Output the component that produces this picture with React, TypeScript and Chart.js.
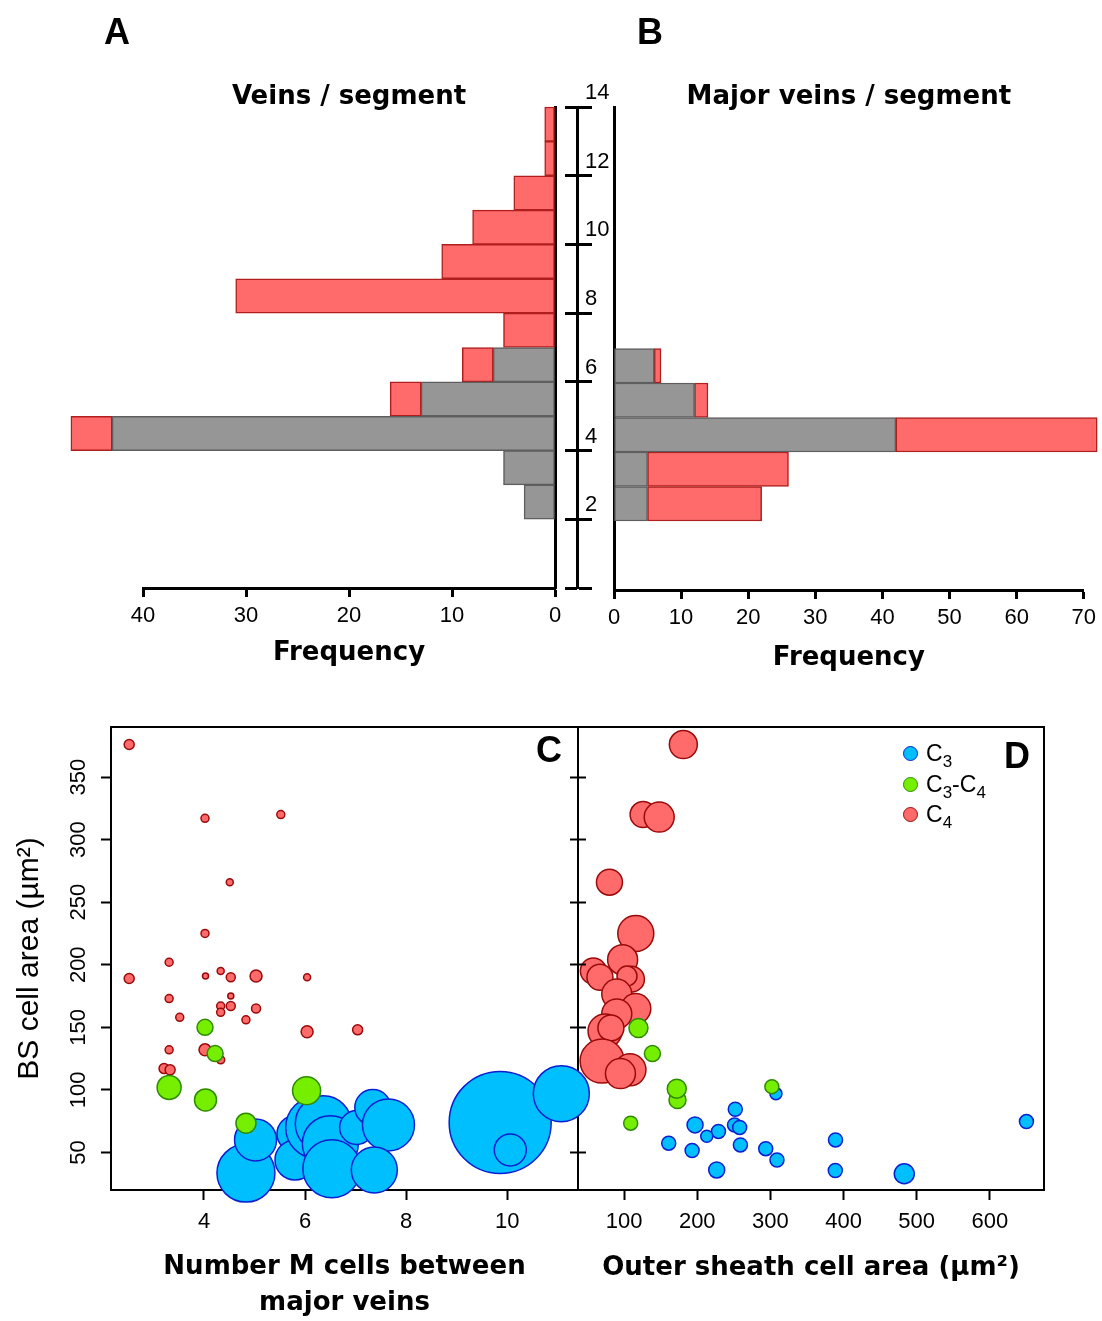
import React, { useEffect, useRef } from 'react';
import { Chart, registerables } from 'chart.js';

Chart.register(...registerables);

// ---------- Panel A / B : histograms (frequency per bin, bins are [n, n+1)) ----------
const veinBins = [2, 3, 4, 5, 6, 7, 8, 9, 10, 11, 12, 13];
const veinsNonC4 = [3, 5, 43, 13, 6, null, null, null, null, null, null, null];
const veinsC4 = [null, null, 4, 3, 3, 5, 31, 11, 8, 4, 1, 1];

const majorBins = [2, 3, 4, 5, 6];
const majorNonC4 = [5, 5, 42, 12, 6];
const majorC4 = [17, 21, 30, 2, 1];

// ---------- Panel C : Number of M cells between major veins vs BS cell area ----------
const cC3X = [5.8, 5.8, 6.23, 6.36, 6.5, 7.02, 7.34, 7.65, 6.53, 7.37, 4.83, 5.02, 9.86, 10.06, 11.07];
const cC3Y = [65, 44, 70, 73, 57, 70, 86, 72, 37, 36, 33.5, 60, 74, 52, 97];
const cC3R = [18, 20, 31, 28, 28, 17, 18, 26, 29, 23, 29, 21, 51, 16, 28];

const cC3C4X = [4.02, 4.22, 3.31, 4.03, 6.03, 4.83];
const cC3C4Y = [150, 129, 102, 92, 99.4, 73.4];
const cC3C4R = [8, 8, 12, 11, 14, 10];

const cC4X = [2.52, 4.02, 5.52, 4.51, 4.02, 3.31, 2.52, 4.03, 4.33, 4.53, 5.03, 6.04, 3.31, 4.53, 4.33, 4.53, 4.33, 5.03, 3.52, 4.83, 6.04, 7.04, 3.31, 4.02, 4.33, 3.21, 3.33];
const cC4Y = [376, 317, 320, 266, 225, 202, 189, 191, 195, 190, 191, 190, 173, 175, 167, 167, 162, 165, 158, 156, 146.5, 148, 132, 132, 124, 117, 116];
const cC4R = [5, 4, 4, 3.5, 4, 4, 5, 3, 3.5, 4.5, 6, 3.5, 4, 3, 4, 4.5, 4, 4.5, 4, 4, 6, 5, 4, 6, 4, 5, 5];

// ---------- Panel D : Outer sheath cell area vs BS cell area ----------
const dC3X = [307.6, 252, 197, 251, 258, 229, 213, 161, 259, 193, 293.6, 309, 226.6, 389, 388.7, 483, 650];
const dC3Y = [97, 84.5, 72, 72, 70, 66.8, 63, 57.4, 56, 51.6, 53, 44, 36, 60, 35.6, 33, 74.7];
const dC3R = [6, 7, 8, 7, 7, 7, 6, 7, 7, 7, 7, 7, 8, 7, 7, 10, 7];

const dC3C4X = [119.6, 138.7, 173, 172, 302, 109];
const dC3C4Y = [149.5, 129, 92, 101, 102.6, 73.4];
const dC3C4R = [9.5, 8, 8.5, 9.5, 7, 7];

const dC4X = [181, 126, 148, 80, 116, 98, 58, 67, 110, 104, 90, 116, 90, 74, 82, 70, 108, 95];
const dC4Y = [376, 320, 318, 266, 225, 204, 195, 190, 188.5, 191, 176.6, 165, 160.7, 147, 149.5, 123, 116, 113];
const dC4R = [14, 13, 15, 13, 18, 15, 13, 13, 13, 10, 15, 15, 15, 17, 13, 22, 16, 15];

// ---------- styles ----------
const TICK_FONT = { family: '"Liberation Sans Narrow", "Liberation Sans", Arial, sans-serif', size: 22 };
const BOLD_TITLE = { family: '"DejaVu Sans", Verdana, sans-serif', size: 26, weight: 'bold' as const, lineHeight: 1.2 };
const Y_TITLE_FONT = { family: '"Liberation Sans", Arial, sans-serif', size: 30, lineHeight: 1.2 };

const GRAY = '#969696';
const GRAY_EDGE = '#5E5E5E';
const RED = '#FF6B6B';
const RED_EDGE = '#B01E1E';
const RED_BUBBLE_EDGE = '#9A0A0A';
const BLUE = '#00BFFF';
const BLUE_EDGE = '#0A1ED2';
const GREEN = '#76EE00';
const GREEN_EDGE = '#2E8B00';

function histData(bins: number[], vals: (number | null)[]) {
  return bins
    .map((b, i) => ({ x: vals[i] as number, y: b + 0.5 }))
    .filter((d) => d.x !== null && d.x !== undefined);
}

function bubbles(xs: number[], ys: number[], rs: number[]) {
  return xs.map((x, i) => ({ x, y: ys[i], r: rs[i] }));
}

const barCommon = {
  borderWidth: 1.5,
  borderSkipped: false as const,
  barPercentage: 1,
  categoryPercentage: 1,
  clip: false as const,
};

function histConfig(opts: {
  bins: number[];
  gray: (number | null)[];
  red: (number | null)[];
  title: string;
  left: boolean;
}): any {
  const { bins, gray, red, title, left } = opts;
  const scales: any = {
    x: {
      type: 'linear',
      position: 'bottom',
      min: 0,
      max: left ? 40 : 70,
      reverse: left,
      stacked: true,
      ticks: { stepSize: 10, color: '#000', font: TICK_FONT, padding: 6, maxRotation: 0, includeBounds: false },
      grid: { drawOnChartArea: false, tickLength: 9, tickWidth: 3, tickColor: '#000' },
      border: { color: '#000', width: 3 },
      title: {
        display: true,
        text: 'Frequency',
        color: '#000',
        font: BOLD_TITLE,
        padding: { top: 0, bottom: left ? 11 : 6 },
      },
      afterFit: (s: any) => {
        s.height = left ? 92 : 90;
      },
    },
  };
  if (left) {
    scales.y = {
      type: 'linear',
      position: 'right',
      weight: 0,
      min: 0,
      max: 14,
      offset: false,
      stacked: true,
      ticks: { display: false, stepSize: 2 },
      grid: { offset: false, drawOnChartArea: false, tickLength: 10, tickColor: 'rgba(0,0,0,0)' },
      border: { color: '#000', width: 3 },
      afterFit: (s: any) => {
        s.width = 10;
      },
    };
    scales.yGap = {
      type: 'linear',
      position: 'right',
      weight: 1,
      min: 0,
      max: 14,
      offset: false,
      ticks: { display: false, stepSize: 2 },
      grid: { offset: false, drawOnChartArea: false, tickLength: 12, tickWidth: 3, tickColor: '#000' },
      border: { display: false },
      afterFit: (s: any) => {
        s.width = 12;
      },
    };
    scales.yMid = {
      type: 'linear',
      position: 'right',
      weight: 2,
      min: 0,
      max: 14,
      offset: false,
      ticks: {
        display: true,
        stepSize: 2,
        color: '#000',
        font: TICK_FONT,
        padding: -7,
        labelOffset: -14,
        callback: (v: any) => (v === 0 ? '' : String(v)),
      },
      grid: { offset: false, drawOnChartArea: false, tickLength: 15, tickWidth: 3, tickColor: '#000' },
      border: { color: '#000', width: 3 },
      afterFit: (s: any) => {
        s.width = 35;
      },
    };
  } else {
    scales.y = {
      type: 'linear',
      position: 'left',
      min: 0,
      max: 14,
      offset: false,
      stacked: true,
      ticks: { display: false, stepSize: 2 },
      grid: { offset: false, drawOnChartArea: false, drawTicks: false },
      border: { color: '#000', width: 3 },
      afterFit: (s: any) => {
        s.width = 14;
      },
    };
  }
  return {
    type: 'bar',
    data: {
      datasets: [
        { label: 'C3 / C3-C4', data: histData(bins, gray), backgroundColor: GRAY, borderColor: GRAY_EDGE, ...barCommon },
        { label: 'C4', data: histData(bins, red), backgroundColor: RED, borderColor: RED_EDGE, ...barCommon },
      ],
    },
    options: {
      indexAxis: 'y',
      responsive: false,
      animation: false,
      events: [],
      layout: {
        autoPadding: false,
        padding: left ? { left: 143, right: 0, top: 0, bottom: 0 } : { left: 0, right: 18, top: 0, bottom: 0 },
      },
      plugins: {
        legend: { display: false },
        tooltip: { enabled: false },
        title: {
          display: true,
          text: title,
          fullSize: false,
          color: '#000',
          font: BOLD_TITLE,
          padding: { top: 81.4, bottom: -5.6 },
        },
      },
      scales,
    },
  };
}

function scatterConfig(opts: { panel: 'C' | 'D' }): any {
  const isC = opts.panel === 'C';
  const yRange = { min: 20, max: 390 };
  const datasets = isC
    ? [
        { label: 'C3', data: bubbles(cC3X, cC3Y, cC3R), backgroundColor: BLUE, borderColor: BLUE_EDGE, order: 2 },
        { label: 'C3-C4', data: bubbles(cC3C4X, cC3C4Y, cC3C4R), backgroundColor: GREEN, borderColor: GREEN_EDGE, order: 0 },
        { label: 'C4', data: bubbles(cC4X, cC4Y, cC4R), backgroundColor: RED, borderColor: RED_BUBBLE_EDGE, order: 1 },
      ]
    : [
        { label: 'C3', data: bubbles(dC3X, dC3Y, dC3R), backgroundColor: BLUE, borderColor: BLUE_EDGE, order: 2 },
        { label: 'C3-C4', data: bubbles(dC3C4X, dC3C4Y, dC3C4R), backgroundColor: GREEN, borderColor: GREEN_EDGE, order: 0 },
        { label: 'C4', data: bubbles(dC4X, dC4Y, dC4R), backgroundColor: RED, borderColor: RED_BUBBLE_EDGE, order: 1 },
      ];
  datasets.forEach((d: any) => {
    d.borderWidth = 1.5;
    d.clip = false;
  });

  const scales: any = {
    x: {
      type: 'linear',
      position: 'bottom',
      min: isC ? 2.16 : 37,
      max: isC ? 11.4 : 674,
      ticks: { stepSize: isC ? 2 : 100, includeBounds: false, color: '#000', font: TICK_FONT, padding: 9, maxRotation: 0 },
      grid: { drawOnChartArea: false, tickLength: 10, tickWidth: 2, tickColor: '#000' },
      border: { color: '#000', width: 2 },
      title: {
        display: true,
        text: isC ? ['Number M cells between', 'major veins'] : 'Outer sheath cell area (\u00b5m\u00b2)',
        color: '#000',
        font: isC ? { ...BOLD_TITLE, lineHeight: 36 / 26 } : BOLD_TITLE,
        padding: { top: 0, bottom: isC ? 0 : 37 },
      },
      afterFit: (s: any) => {
        s.height = 131;
      },
    },
    xTop: {
      type: 'linear',
      position: 'top',
      ticks: { display: false },
      grid: { drawOnChartArea: false, drawTicks: false },
      border: { color: '#000', width: 2 },
      afterFit: (s: any) => {
        s.height = 0;
      },
    },
    y: {
      type: 'linear',
      position: 'left',
      ...yRange,
      ticks: isC
        ? {
            stepSize: 50,
            includeBounds: false,
            color: '#000',
            font: TICK_FONT,
            minRotation: 90,
            maxRotation: 90,
            crossAlign: 'center',
            padding: 4,
          }
        : { stepSize: 50, includeBounds: false, display: false },
      grid: { drawOnChartArea: false, tickLength: isC ? 10 : 8, tickWidth: 2, tickColor: '#000' },
      border: { color: '#000', width: 2 },
      title: isC
        ? { display: true, text: 'BS cell area (\u00b5m\u00b2)', color: '#000', font: Y_TITLE_FONT, padding: { top: 12, bottom: 0 } }
        : { display: false },
      afterFit: (s: any) => {
        s.width = isC ? 111 : 18;
      },
    },
    yR: {
      type: 'linear',
      position: 'right',
      ...yRange,
      ticks: { display: false, stepSize: 50, includeBounds: false },
      grid: isC
        ? { drawOnChartArea: false, tickLength: 8, tickWidth: 2, tickColor: '#000' }
        : { drawOnChartArea: false, drawTicks: false },
      border: { color: '#000', width: 2 },
      afterFit: (s: any) => {
        s.width = isC ? 8 : 0;
      },
    },
  };

  return {
    type: 'bubble',
    data: { datasets },
    options: {
      responsive: false,
      animation: false,
      events: [],
      layout: { autoPadding: false, padding: { left: 0, top: 47, bottom: 0, right: isC ? 20 : 58 } },
      plugins: { legend: { display: false }, tooltip: { enabled: false } },
      scales,
    },
  };
}

function ChartBox(props: { left: number; top: number; width: number; height: number; make: () => any; z: number }) {
  const { left, top, width, height, make, z } = props;
  const ref = useRef<HTMLCanvasElement>(null);
  useEffect(() => {
    if (!ref.current) return;
    const chart = new Chart(ref.current, make());
    return () => chart.destroy();
  }, []);
  return (
    <canvas
      ref={ref}
      width={width}
      height={height}
      style={{ position: 'absolute', left, top, width, height, zIndex: z }}
    />
  );
}

const letterStyle = (x: number, y: number): React.CSSProperties => ({
  position: 'absolute',
  left: x,
  top: y,
  transform: 'translate(-50%, -50%)',
  fontFamily: '"Liberation Sans", Arial, sans-serif',
  fontWeight: 'bold',
  fontSize: 36,
  lineHeight: 1,
  color: '#000',
  zIndex: 10,
});

const legendItems = [
  { label: 'C', sub: '3', tail: '', tailSub: '', fill: BLUE, edge: BLUE_EDGE },
  { label: 'C', sub: '3', tail: '-C', tailSub: '4', fill: GREEN, edge: GREEN_EDGE },
  { label: 'C', sub: '4', tail: '', tailSub: '', fill: RED, edge: RED_BUBBLE_EDGE },
];
const legendRowY = [753, 784, 814];

export default function App() {
  Chart.defaults.color = '#000';
  return (
    <div style={{ position: 'absolute', left: 0, top: 0, width: 1102, height: 1321, background: '#fff', overflow: 'hidden' }}>
      <ChartBox left={0} top={0} width={612} height={680} z={1}
        make={() => histConfig({ bins: veinBins, gray: veinsNonC4, red: veinsC4, title: 'Veins / segment', left: true })} />
      <ChartBox left={600} top={0} width={502} height={680} z={2}
        make={() => histConfig({ bins: majorBins, gray: majorNonC4, red: majorC4, title: 'Major veins / segment', left: false })} />
      <ChartBox left={560} top={680} width={542} height={641} z={3} make={() => scatterConfig({ panel: 'D' })} />
      <ChartBox left={0} top={680} width={606} height={641} z={4} make={() => scatterConfig({ panel: 'C' })} />

      <div style={letterStyle(117, 32)}>A</div>
      <div style={letterStyle(650, 32)}>B</div>
      <div style={letterStyle(549, 750)}>C</div>
      <div style={letterStyle(1017, 756)}>D</div>

      {legendItems.map((it, i) => (
        <div key={i} style={{ position: 'absolute', left: 903, top: legendRowY[i] - 14, height: 28, display: 'flex', alignItems: 'center', zIndex: 10 }}>
          <span style={{ display: 'inline-block', width: 13, height: 13, borderRadius: '50%', background: it.fill, border: `1.5px solid ${it.edge}`, marginRight: 8 }} />
          <span style={{ fontFamily: '"Liberation Sans", Arial, sans-serif', fontSize: 23, color: '#000', lineHeight: '28px', whiteSpace: 'nowrap' }}>
            {it.label}
            <sub style={{ fontSize: 17, verticalAlign: -6, lineHeight: 0 }}>{it.sub}</sub>
            {it.tail}
            {it.tailSub ? <sub style={{ fontSize: 17, verticalAlign: -6, lineHeight: 0 }}>{it.tailSub}</sub> : null}
          </span>
        </div>
      ))}
    </div>
  );
}
